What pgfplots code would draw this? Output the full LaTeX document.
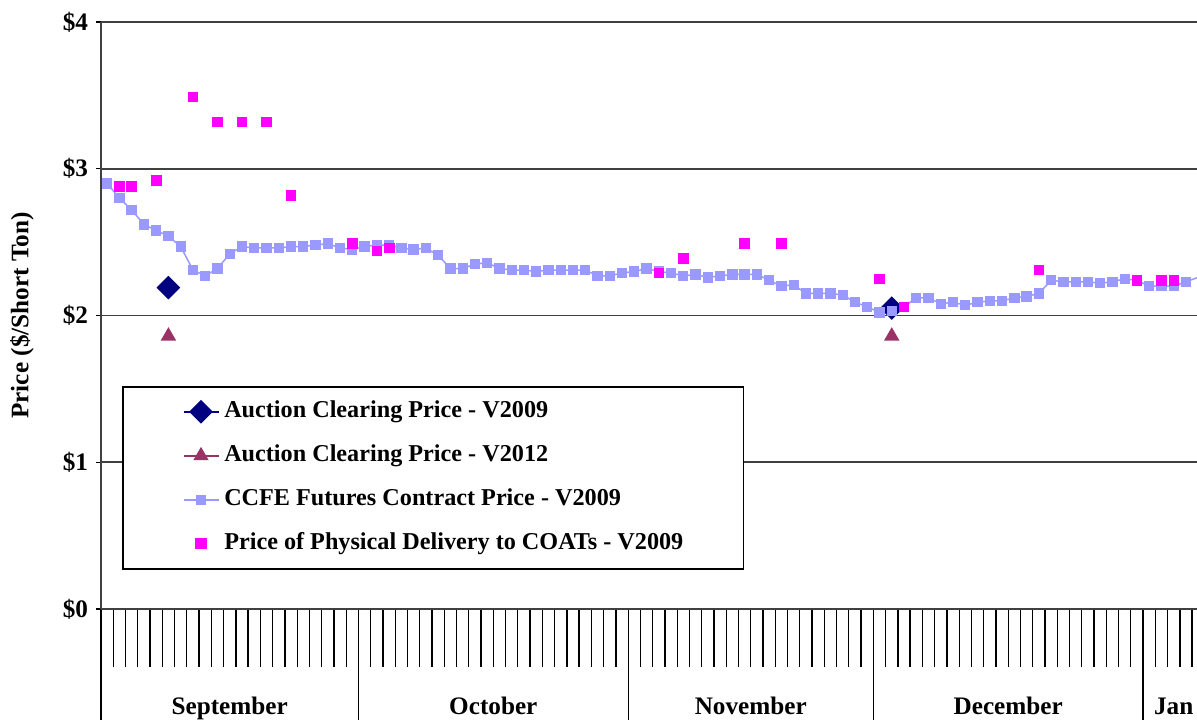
\documentclass[border=0pt]{standalone}
\usepackage{pgfplots}
\pgfplotsset{compat=1.18}
\usepackage{pgfplotstable}
\usepackage{fontspec}
\setmainfont{Liberation Serif}
\definecolor{navyc}{RGB}{0,0,128}
\definecolor{plumc}{RGB}{153,51,102}
\definecolor{lblue}{RGB}{153,153,255}
\definecolor{magc}{RGB}{255,0,255}
\newcommand{\cf}{\bfseries\fontsize{12.6}{15}\selectfont}
\newcommand{\lf}{\bfseries\fontsize{12.1}{15}\selectfont}

\pgfplotstableread{
x y
0 2.90
1 2.80
2 2.72
3 2.62
4 2.58
5 2.54
6 2.47
7 2.31
8 2.27
9 2.32
10 2.42
11 2.47
12 2.46
13 2.46
14 2.46
15 2.47
16 2.47
17 2.48
18 2.49
19 2.46
20 2.45
21 2.47
22 2.48
23 2.48
24 2.46
25 2.45
26 2.46
27 2.41
28 2.32
29 2.32
30 2.35
31 2.36
32 2.32
33 2.31
34 2.31
35 2.30
36 2.31
37 2.31
38 2.31
39 2.31
40 2.27
41 2.27
42 2.29
43 2.30
44 2.32
45 2.30
46 2.29
47 2.27
48 2.28
49 2.26
50 2.27
51 2.28
52 2.28
53 2.28
54 2.24
55 2.20
56 2.21
57 2.15
58 2.15
59 2.15
60 2.14
61 2.09
62 2.06
63 2.02
64 2.03
65 2.06
66 2.12
67 2.12
68 2.08
69 2.09
70 2.07
71 2.09
72 2.10
73 2.10
74 2.12
75 2.13
76 2.15
77 2.24
78 2.23
79 2.23
80 2.23
81 2.22
82 2.23
83 2.25
84 2.24
85 2.20
86 2.20
87 2.20
88 2.23
89 2.26
}\ccfe

\pgfplotstableread{
x y
1 2.88
2 2.88
4 2.92
7 3.49
9 3.32
11 3.32
13 3.32
15 2.82
20 2.49
22 2.44
23 2.46
45 2.29
47 2.39
52 2.49
55 2.49
63 2.25
65 2.06
76 2.31
84 2.24
86 2.24
87 2.24
89 2.29
}\phys

\begin{document}
\begin{tikzpicture}
% data axis: values, y ticks, month names
\begin{axis}[
  at={(0,0)}, anchor=south west, scale only axis,
  width=548pt, height=293.5pt,
  xmin=-0.5, xmax=88.9, ymin=0, ymax=4,
  axis x line=bottom, axis y line=left,
  axis line style={-, black!75, line width=0.9pt},
  tick align=outside,
  xtick={10,31.5,52.5,73.5,87},
  xticklabels={September,October,November,December,Jan},
  xtick style={/pgfplots/major tick length=0pt, draw=none},
  xticklabel style={anchor=base, yshift=-48.5pt},
  ytick={0,1,2,3,4},
  yticklabels={\$0,\$1,\$2,\$3,\$4},
  ytick style={/pgfplots/major tick length=2.5pt, black, line width=0.65pt},
  ymajorgrids, grid style={black!75, line width=0.9pt},
  yticklabel style={anchor=east, inner sep=0pt, xshift=-2pt},
  tick label style={font=\cf},
  ylabel={Price (\$/Short Ton)},
  ylabel style={font=\cf, at={(axis description cs:-0.0721,0.5)}, anchor=center},
  unbounded coords=jump,
  legend style={at={(axis description cs:0.01916,0.3799)}, anchor=north west,
    draw=black, line width=0.75pt, font=\lf, inner xsep=30pt, inner ysep=6.5pt,
    row sep=10pt, column sep=2.5pt,
    nodes={inner sep=0pt, text height=9pt, text depth=3pt}},
  legend cell align=left,
  legend image code/.code={\draw[mark repeat=2,mark phase=2,#1] plot coordinates {(0pt,0pt) (8.75pt,0pt) (17.5pt,0pt)};},
]
\addplot[navyc, line width=0.75pt, mark=square*, mark size=3.8pt, mark options={rotate=45, solid, fill=navyc}]
  coordinates {(5,2.19) (6,nan) (64,2.05)};
\addlegendentry{Auction Clearing Price - V2009}
\addplot[plumc, line width=0.75pt, mark=triangle*, mark size=3.7pt, mark options={solid, fill=plumc}]
  coordinates {(5,1.86) (6,nan) (64,1.86)};
\addlegendentry{Auction Clearing Price - V2012}
\addplot[lblue, line width=0.75pt, mark=square*, mark size=2.2pt, mark options={solid, fill=lblue}]
  table[x=x, y=y] {\ccfe};
\addlegendentry{CCFE Futures Contract Price - V2009}
\addplot[magc, only marks, mark=square*, mark size=2.4pt, mark options={fill=magc}]
  table[x=x, y=y] {\phys};
\addlegendentry{Price of Physical Delivery to COATs - V2009}
\end{axis}
% tick axis: day and month boundaries
\begin{axis}[
  at={(0,0)}, anchor=south west, scale only axis,
  width=548pt, height=293.5pt,
  xmin=-0.5, xmax=88.9, ymin=0, ymax=4,
  axis x line=bottom, axis y line=none,
  axis line style={-, black!75, line width=0.9pt},
  tick align=outside,
  xtick={-0.5,20.5,42.5,62.5,84.5}, xticklabels={},
  minor xtick={0.5,1.5,...,88.5},
  xtick style={/pgfplots/major tick length=62pt, /pgfplots/minor tick length=29pt, black, line width=0.65pt},
  ytick=\empty,
]
\end{axis}
\pgfresetboundingbox
\path[use as bounding box] (-50.5pt,-55pt) rectangle (548pt,304.5pt);
\end{tikzpicture}
\end{document}
